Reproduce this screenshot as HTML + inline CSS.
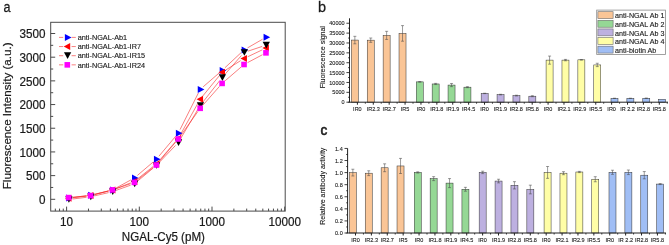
<!DOCTYPE html>
<html><head><meta charset="utf-8"><style>
html,body{margin:0;padding:0;background:#fff;}
body{width:669px;height:245px;overflow:hidden;font-family:"Liberation Sans",sans-serif;}
svg{display:block;will-change:transform;}
</style></head><body>
<svg width="669" height="245" viewBox="0 0 669 245">
<rect width="669" height="245" fill="#fff"/>
<rect x="50.7" y="22.3" width="234.5" height="188.79999999999998" fill="none" stroke="#4a4a4a" stroke-width="1"/>
<line x1="50.7" y1="199.30" x2="55.2" y2="199.30" stroke="#4a4a4a" stroke-width="1"/>
<line x1="50.7" y1="187.46" x2="53.2" y2="187.46" stroke="#4a4a4a" stroke-width="1"/>
<line x1="50.7" y1="175.61" x2="55.2" y2="175.61" stroke="#4a4a4a" stroke-width="1"/>
<line x1="50.7" y1="163.77" x2="53.2" y2="163.77" stroke="#4a4a4a" stroke-width="1"/>
<line x1="50.7" y1="151.93" x2="55.2" y2="151.93" stroke="#4a4a4a" stroke-width="1"/>
<line x1="50.7" y1="140.09" x2="53.2" y2="140.09" stroke="#4a4a4a" stroke-width="1"/>
<line x1="50.7" y1="128.24" x2="55.2" y2="128.24" stroke="#4a4a4a" stroke-width="1"/>
<line x1="50.7" y1="116.40" x2="53.2" y2="116.40" stroke="#4a4a4a" stroke-width="1"/>
<line x1="50.7" y1="104.56" x2="55.2" y2="104.56" stroke="#4a4a4a" stroke-width="1"/>
<line x1="50.7" y1="92.71" x2="53.2" y2="92.71" stroke="#4a4a4a" stroke-width="1"/>
<line x1="50.7" y1="80.87" x2="55.2" y2="80.87" stroke="#4a4a4a" stroke-width="1"/>
<line x1="50.7" y1="69.03" x2="53.2" y2="69.03" stroke="#4a4a4a" stroke-width="1"/>
<line x1="50.7" y1="57.19" x2="55.2" y2="57.19" stroke="#4a4a4a" stroke-width="1"/>
<line x1="50.7" y1="45.34" x2="53.2" y2="45.34" stroke="#4a4a4a" stroke-width="1"/>
<line x1="50.7" y1="33.50" x2="55.2" y2="33.50" stroke="#4a4a4a" stroke-width="1"/>
<text transform="translate(45.60,203.93) scale(1,1.03)" font-size="11.7" text-anchor="end" fill="#1a1a1a" stroke="#1a1a1a" stroke-width="0.203" font-family="Liberation Sans, sans-serif">0</text>
<text transform="translate(45.60,180.24) scale(1,1.03)" font-size="11.7" text-anchor="end" fill="#1a1a1a" stroke="#1a1a1a" stroke-width="0.203" font-family="Liberation Sans, sans-serif">500</text>
<text transform="translate(45.60,156.55) scale(1,1.03)" font-size="11.7" text-anchor="end" fill="#1a1a1a" stroke="#1a1a1a" stroke-width="0.203" font-family="Liberation Sans, sans-serif">1000</text>
<text transform="translate(45.60,132.87) scale(1,1.03)" font-size="11.7" text-anchor="end" fill="#1a1a1a" stroke="#1a1a1a" stroke-width="0.203" font-family="Liberation Sans, sans-serif">1500</text>
<text transform="translate(45.60,109.18) scale(1,1.03)" font-size="11.7" text-anchor="end" fill="#1a1a1a" stroke="#1a1a1a" stroke-width="0.203" font-family="Liberation Sans, sans-serif">2000</text>
<text transform="translate(45.60,85.50) scale(1,1.03)" font-size="11.7" text-anchor="end" fill="#1a1a1a" stroke="#1a1a1a" stroke-width="0.203" font-family="Liberation Sans, sans-serif">2500</text>
<text transform="translate(45.60,61.81) scale(1,1.03)" font-size="11.7" text-anchor="end" fill="#1a1a1a" stroke="#1a1a1a" stroke-width="0.203" font-family="Liberation Sans, sans-serif">3000</text>
<text transform="translate(45.60,38.13) scale(1,1.03)" font-size="11.7" text-anchor="end" fill="#1a1a1a" stroke="#1a1a1a" stroke-width="0.203" font-family="Liberation Sans, sans-serif">3500</text>
<line x1="55.34" y1="211.1" x2="55.34" y2="208.6" stroke="#4a4a4a" stroke-width="1"/>
<line x1="59.55" y1="211.1" x2="59.55" y2="208.6" stroke="#4a4a4a" stroke-width="1"/>
<line x1="63.27" y1="211.1" x2="63.27" y2="208.6" stroke="#4a4a4a" stroke-width="1"/>
<line x1="66.60" y1="211.1" x2="66.60" y2="206.6" stroke="#4a4a4a" stroke-width="1"/>
<line x1="88.48" y1="211.1" x2="88.48" y2="208.6" stroke="#4a4a4a" stroke-width="1"/>
<line x1="101.29" y1="211.1" x2="101.29" y2="208.6" stroke="#4a4a4a" stroke-width="1"/>
<line x1="110.37" y1="211.1" x2="110.37" y2="208.6" stroke="#4a4a4a" stroke-width="1"/>
<line x1="117.42" y1="211.1" x2="117.42" y2="208.6" stroke="#4a4a4a" stroke-width="1"/>
<line x1="123.17" y1="211.1" x2="123.17" y2="208.6" stroke="#4a4a4a" stroke-width="1"/>
<line x1="128.04" y1="211.1" x2="128.04" y2="208.6" stroke="#4a4a4a" stroke-width="1"/>
<line x1="132.25" y1="211.1" x2="132.25" y2="208.6" stroke="#4a4a4a" stroke-width="1"/>
<line x1="135.97" y1="211.1" x2="135.97" y2="208.6" stroke="#4a4a4a" stroke-width="1"/>
<line x1="139.30" y1="211.1" x2="139.30" y2="206.6" stroke="#4a4a4a" stroke-width="1"/>
<line x1="161.18" y1="211.1" x2="161.18" y2="208.6" stroke="#4a4a4a" stroke-width="1"/>
<line x1="173.99" y1="211.1" x2="173.99" y2="208.6" stroke="#4a4a4a" stroke-width="1"/>
<line x1="183.07" y1="211.1" x2="183.07" y2="208.6" stroke="#4a4a4a" stroke-width="1"/>
<line x1="190.12" y1="211.1" x2="190.12" y2="208.6" stroke="#4a4a4a" stroke-width="1"/>
<line x1="195.87" y1="211.1" x2="195.87" y2="208.6" stroke="#4a4a4a" stroke-width="1"/>
<line x1="200.74" y1="211.1" x2="200.74" y2="208.6" stroke="#4a4a4a" stroke-width="1"/>
<line x1="204.95" y1="211.1" x2="204.95" y2="208.6" stroke="#4a4a4a" stroke-width="1"/>
<line x1="208.67" y1="211.1" x2="208.67" y2="208.6" stroke="#4a4a4a" stroke-width="1"/>
<line x1="212.00" y1="211.1" x2="212.00" y2="206.6" stroke="#4a4a4a" stroke-width="1"/>
<line x1="233.88" y1="211.1" x2="233.88" y2="208.6" stroke="#4a4a4a" stroke-width="1"/>
<line x1="246.69" y1="211.1" x2="246.69" y2="208.6" stroke="#4a4a4a" stroke-width="1"/>
<line x1="255.77" y1="211.1" x2="255.77" y2="208.6" stroke="#4a4a4a" stroke-width="1"/>
<line x1="262.82" y1="211.1" x2="262.82" y2="208.6" stroke="#4a4a4a" stroke-width="1"/>
<line x1="268.57" y1="211.1" x2="268.57" y2="208.6" stroke="#4a4a4a" stroke-width="1"/>
<line x1="273.44" y1="211.1" x2="273.44" y2="208.6" stroke="#4a4a4a" stroke-width="1"/>
<line x1="277.65" y1="211.1" x2="277.65" y2="208.6" stroke="#4a4a4a" stroke-width="1"/>
<line x1="281.37" y1="211.1" x2="281.37" y2="208.6" stroke="#4a4a4a" stroke-width="1"/>
<line x1="284.70" y1="211.1" x2="284.70" y2="206.6" stroke="#4a4a4a" stroke-width="1"/>
<text transform="translate(66.60,225.98) scale(1,1.03)" font-size="11.7" text-anchor="middle" fill="#1a1a1a" stroke="#1a1a1a" stroke-width="0.203" font-family="Liberation Sans, sans-serif">10</text>
<text transform="translate(139.30,225.98) scale(1,1.03)" font-size="11.7" text-anchor="middle" fill="#1a1a1a" stroke="#1a1a1a" stroke-width="0.203" font-family="Liberation Sans, sans-serif">100</text>
<text transform="translate(212.00,225.98) scale(1,1.03)" font-size="11.7" text-anchor="middle" fill="#1a1a1a" stroke="#1a1a1a" stroke-width="0.203" font-family="Liberation Sans, sans-serif">1000</text>
<text transform="translate(284.70,225.98) scale(1,1.03)" font-size="11.7" text-anchor="middle" fill="#1a1a1a" stroke="#1a1a1a" stroke-width="0.203" font-family="Liberation Sans, sans-serif">10000</text>
<text transform="translate(163.40,241.42) scale(1,1.03)" font-size="11.6" text-anchor="middle" fill="#1a1a1a" stroke="#1a1a1a" stroke-width="0.202" font-family="Liberation Sans, sans-serif">NGAL-Cy5 (pM)</text>
<text transform="translate(10.5,115.8) rotate(-90)" x="0" y="0" font-size="11.65" text-anchor="middle" fill="#1a1a1a" stroke="#1a1a1a" stroke-width="0.2" font-family="Liberation Sans, sans-serif">Fluorescence Intensity (a.u.)</text>
<text transform="translate(3.50,12.28) scale(1,1.15)" font-size="12.6" text-anchor="start" fill="#1a1a1a" stroke="#1a1a1a" stroke-width="0.219" font-family="Liberation Sans, sans-serif">a</text>
<path d="M72.57 197.49L86.56 195.71M94.42 194.28L108.57 190.92M115.97 188.08L130.88 179.92M137.43 175.40L153.28 161.90M158.89 156.24L175.68 136.26M180.04 129.62L198.39 92.98M203.20 86.78L219.09 73.02M225.03 67.67L241.12 52.63M247.50 47.90L262.51 39.25" fill="none" stroke="#f52828" stroke-width="0.6"/>
<path d="M72.57 197.81L86.56 196.09M94.41 194.61L108.58 190.99M116.18 188.54L130.67 182.86M137.52 178.91L153.19 166.49M158.93 160.97L175.64 141.53M180.20 135.01L198.23 102.69M202.71 96.10L219.58 75.40M225.50 70.17L240.65 60.63M247.65 56.79L262.36 49.81" fill="none" stroke="#f52828" stroke-width="0.6"/>
<path d="M72.57 199.01L86.56 197.29M94.43 195.89L108.56 192.61M116.22 190.34L130.63 185.16M137.46 181.24L153.25 168.06M159.09 162.61L175.48 145.49M180.29 139.16L198.14 108.94M202.65 102.36L219.64 80.74M224.74 74.59L241.41 55.51M247.83 51.23L262.18 46.42" fill="none" stroke="#f52828" stroke-width="0.6"/>
<path d="M72.58 197.24L86.55 195.96M94.40 194.59L108.59 190.91M116.24 188.61L130.61 183.69M137.52 179.91L153.19 167.49M158.90 161.94L175.67 142.06M180.58 135.75L197.85 111.55M202.82 105.30L219.47 86.40M225.14 80.79L241.01 67.11M247.57 62.62L262.44 54.73" fill="none" stroke="#f52828" stroke-width="0.6"/>
<polygon points="66.20,194.50 72.80,198.00 66.20,201.50" fill="#0000ff"/>
<polygon points="88.13,191.70 94.73,195.20 88.13,198.70" fill="#0000ff"/>
<polygon points="110.06,186.50 116.66,190.00 110.06,193.50" fill="#0000ff"/>
<polygon points="131.99,174.50 138.59,178.00 131.99,181.50" fill="#0000ff"/>
<polygon points="153.92,155.80 160.52,159.30 153.92,162.80" fill="#0000ff"/>
<polygon points="175.85,129.70 182.45,133.20 175.85,136.70" fill="#0000ff"/>
<polygon points="197.78,85.90 204.38,89.40 197.78,92.90" fill="#0000ff"/>
<polygon points="219.71,66.90 226.31,70.40 219.71,73.90" fill="#0000ff"/>
<polygon points="241.64,46.40 248.24,49.90 241.64,53.40" fill="#0000ff"/>
<polygon points="263.57,33.75 270.17,37.25 263.57,40.75" fill="#0000ff"/>
<polygon points="71.50,194.80 65.00,198.30 71.50,201.80" fill="#ff0000"/>
<polygon points="93.43,192.10 86.93,195.60 93.43,199.10" fill="#ff0000"/>
<polygon points="115.36,186.50 108.86,190.00 115.36,193.50" fill="#ff0000"/>
<polygon points="137.29,177.90 130.79,181.40 137.29,184.90" fill="#ff0000"/>
<polygon points="159.22,160.50 152.72,164.00 159.22,167.50" fill="#ff0000"/>
<polygon points="181.15,135.00 174.65,138.50 181.15,142.00" fill="#ff0000"/>
<polygon points="203.08,95.70 196.58,99.20 203.08,102.70" fill="#ff0000"/>
<polygon points="225.01,68.80 218.51,72.30 225.01,75.80" fill="#ff0000"/>
<polygon points="246.94,55.00 240.44,58.50 246.94,62.00" fill="#ff0000"/>
<polygon points="268.87,44.60 262.37,48.10 268.87,51.60" fill="#ff0000"/>
<polygon points="65.25,196.15 72.55,196.15 68.90,202.85" fill="#000000"/>
<polygon points="87.18,193.45 94.48,193.45 90.83,200.15" fill="#000000"/>
<polygon points="109.11,188.35 116.41,188.35 112.76,195.05" fill="#000000"/>
<polygon points="131.04,180.45 138.34,180.45 134.69,187.15" fill="#000000"/>
<polygon points="152.97,162.15 160.27,162.15 156.62,168.85" fill="#000000"/>
<polygon points="174.90,139.25 182.20,139.25 178.55,145.95" fill="#000000"/>
<polygon points="196.83,102.15 204.13,102.15 200.48,108.85" fill="#000000"/>
<polygon points="218.76,74.25 226.06,74.25 222.41,80.95" fill="#000000"/>
<polygon points="240.69,49.15 247.99,49.15 244.34,55.85" fill="#000000"/>
<polygon points="262.62,41.80 269.92,41.80 266.27,48.50" fill="#000000"/>
<rect x="65.80" y="194.80" width="5.60" height="5.60" fill="#ff00ff"/>
<rect x="87.73" y="192.80" width="5.60" height="5.60" fill="#ff00ff"/>
<rect x="109.66" y="187.10" width="5.60" height="5.60" fill="#ff00ff"/>
<rect x="131.59" y="179.60" width="5.60" height="5.60" fill="#ff00ff"/>
<rect x="153.52" y="162.20" width="5.60" height="5.60" fill="#ff00ff"/>
<rect x="175.45" y="136.20" width="5.60" height="5.60" fill="#ff00ff"/>
<rect x="197.38" y="105.50" width="5.60" height="5.60" fill="#ff00ff"/>
<rect x="219.31" y="80.60" width="5.60" height="5.60" fill="#ff00ff"/>
<rect x="241.24" y="61.70" width="5.60" height="5.60" fill="#ff00ff"/>
<rect x="263.17" y="50.05" width="5.60" height="5.60" fill="#ff00ff"/>
<line x1="59" y1="37.40" x2="63.2" y2="37.40" stroke="#f52828" stroke-width="0.6"/>
<line x1="71.6" y1="37.40" x2="75.8" y2="37.40" stroke="#f52828" stroke-width="0.6"/>
<polygon points="64.90,33.90 71.50,37.40 64.90,40.90" fill="#0000ff"/>
<text transform="translate(77.70,40.13) scale(1,1.03)" font-size="7.3" text-anchor="start" fill="#1a1a1a" stroke="#1a1a1a" stroke-width="0.127" font-family="Liberation Sans, sans-serif">anti-NGAL-Ab1</text>
<line x1="59" y1="46.55" x2="63.2" y2="46.55" stroke="#f52828" stroke-width="0.6"/>
<line x1="71.6" y1="46.55" x2="75.8" y2="46.55" stroke="#f52828" stroke-width="0.6"/>
<polygon points="70.20,43.05 63.70,46.55 70.20,50.05" fill="#ff0000"/>
<text transform="translate(77.70,49.28) scale(1,1.03)" font-size="7.3" text-anchor="start" fill="#1a1a1a" stroke="#1a1a1a" stroke-width="0.127" font-family="Liberation Sans, sans-serif">anti-NGAL-Ab1-IR7</text>
<line x1="59" y1="55.70" x2="63.2" y2="55.70" stroke="#f52828" stroke-width="0.6"/>
<line x1="71.6" y1="55.70" x2="75.8" y2="55.70" stroke="#f52828" stroke-width="0.6"/>
<polygon points="63.95,52.35 71.25,52.35 67.60,59.05" fill="#000000"/>
<text transform="translate(77.70,58.43) scale(1,1.03)" font-size="7.3" text-anchor="start" fill="#1a1a1a" stroke="#1a1a1a" stroke-width="0.127" font-family="Liberation Sans, sans-serif">anti-NGAL-Ab1-IR15</text>
<line x1="59" y1="64.85" x2="63.2" y2="64.85" stroke="#f52828" stroke-width="0.6"/>
<line x1="71.6" y1="64.85" x2="75.8" y2="64.85" stroke="#f52828" stroke-width="0.6"/>
<rect x="64.50" y="62.05" width="5.60" height="5.60" fill="#ff00ff"/>
<text transform="translate(77.70,67.58) scale(1,1.03)" font-size="7.3" text-anchor="start" fill="#1a1a1a" stroke="#1a1a1a" stroke-width="0.127" font-family="Liberation Sans, sans-serif">anti-NGAL-Ab1-IR24</text>
<rect x="351.35" y="40.07" width="7.0" height="62.13" fill="#fac596" stroke="#303030" stroke-width="0.5"/>
<line x1="354.85" y1="36.32" x2="354.85" y2="43.82" stroke="#4a4a4a" stroke-width="0.55"/>
<line x1="353.35" y1="36.32" x2="356.35" y2="36.32" stroke="#4a4a4a" stroke-width="0.55"/>
<line x1="353.35" y1="43.82" x2="356.35" y2="43.82" stroke="#4a4a4a" stroke-width="0.55"/>
<rect x="367.24" y="40.17" width="7.0" height="62.03" fill="#fac596" stroke="#303030" stroke-width="0.5"/>
<line x1="370.74" y1="38.00" x2="370.74" y2="42.35" stroke="#4a4a4a" stroke-width="0.55"/>
<line x1="369.24" y1="38.00" x2="372.24" y2="38.00" stroke="#4a4a4a" stroke-width="0.55"/>
<line x1="369.24" y1="42.35" x2="372.24" y2="42.35" stroke="#4a4a4a" stroke-width="0.55"/>
<rect x="383.13" y="35.38" width="7.0" height="66.82" fill="#fac596" stroke="#303030" stroke-width="0.5"/>
<line x1="386.63" y1="31.33" x2="386.63" y2="39.43" stroke="#4a4a4a" stroke-width="0.55"/>
<line x1="385.13" y1="31.33" x2="388.13" y2="31.33" stroke="#4a4a4a" stroke-width="0.55"/>
<line x1="385.13" y1="39.43" x2="388.13" y2="39.43" stroke="#4a4a4a" stroke-width="0.55"/>
<rect x="399.02" y="33.41" width="7.0" height="68.79" fill="#fac596" stroke="#303030" stroke-width="0.5"/>
<line x1="402.52" y1="25.61" x2="402.52" y2="41.20" stroke="#4a4a4a" stroke-width="0.55"/>
<line x1="401.02" y1="25.61" x2="404.02" y2="25.61" stroke="#4a4a4a" stroke-width="0.55"/>
<line x1="401.02" y1="41.20" x2="404.02" y2="41.20" stroke="#4a4a4a" stroke-width="0.55"/>
<rect x="416.26" y="81.87" width="7.0" height="20.33" fill="#95d895" stroke="#303030" stroke-width="0.5"/>
<line x1="419.76" y1="81.57" x2="419.76" y2="82.16" stroke="#4a4a4a" stroke-width="0.55"/>
<line x1="418.26" y1="81.57" x2="421.26" y2="81.57" stroke="#4a4a4a" stroke-width="0.55"/>
<line x1="418.26" y1="82.16" x2="421.26" y2="82.16" stroke="#4a4a4a" stroke-width="0.55"/>
<rect x="432.15" y="83.96" width="7.0" height="18.24" fill="#95d895" stroke="#303030" stroke-width="0.5"/>
<line x1="435.65" y1="83.37" x2="435.65" y2="84.55" stroke="#4a4a4a" stroke-width="0.55"/>
<line x1="434.15" y1="83.37" x2="437.15" y2="83.37" stroke="#4a4a4a" stroke-width="0.55"/>
<line x1="434.15" y1="84.55" x2="437.15" y2="84.55" stroke="#4a4a4a" stroke-width="0.55"/>
<rect x="448.04" y="85.07" width="7.0" height="17.13" fill="#95d895" stroke="#303030" stroke-width="0.5"/>
<line x1="451.54" y1="83.49" x2="451.54" y2="86.64" stroke="#4a4a4a" stroke-width="0.55"/>
<line x1="450.04" y1="83.49" x2="453.04" y2="83.49" stroke="#4a4a4a" stroke-width="0.55"/>
<line x1="450.04" y1="86.64" x2="453.04" y2="86.64" stroke="#4a4a4a" stroke-width="0.55"/>
<rect x="463.93" y="87.17" width="7.0" height="15.03" fill="#95d895" stroke="#303030" stroke-width="0.5"/>
<line x1="467.43" y1="86.68" x2="467.43" y2="87.66" stroke="#4a4a4a" stroke-width="0.55"/>
<line x1="465.93" y1="86.68" x2="468.93" y2="86.68" stroke="#4a4a4a" stroke-width="0.55"/>
<line x1="465.93" y1="87.66" x2="468.93" y2="87.66" stroke="#4a4a4a" stroke-width="0.55"/>
<rect x="481.17" y="93.42" width="7.0" height="8.78" fill="#bdb0e0" stroke="#303030" stroke-width="0.5"/>
<line x1="484.67" y1="93.22" x2="484.67" y2="93.61" stroke="#4a4a4a" stroke-width="0.55"/>
<line x1="483.17" y1="93.22" x2="486.17" y2="93.22" stroke="#4a4a4a" stroke-width="0.55"/>
<line x1="483.17" y1="93.61" x2="486.17" y2="93.61" stroke="#4a4a4a" stroke-width="0.55"/>
<rect x="497.06" y="94.60" width="7.0" height="7.60" fill="#bdb0e0" stroke="#303030" stroke-width="0.5"/>
<line x1="500.56" y1="94.30" x2="500.56" y2="94.90" stroke="#4a4a4a" stroke-width="0.55"/>
<line x1="499.06" y1="94.30" x2="502.06" y2="94.30" stroke="#4a4a4a" stroke-width="0.55"/>
<line x1="499.06" y1="94.90" x2="502.06" y2="94.90" stroke="#4a4a4a" stroke-width="0.55"/>
<rect x="512.95" y="95.61" width="7.0" height="6.59" fill="#bdb0e0" stroke="#303030" stroke-width="0.5"/>
<line x1="516.45" y1="95.21" x2="516.45" y2="96.00" stroke="#4a4a4a" stroke-width="0.55"/>
<line x1="514.95" y1="95.21" x2="517.95" y2="95.21" stroke="#4a4a4a" stroke-width="0.55"/>
<line x1="514.95" y1="96.00" x2="517.95" y2="96.00" stroke="#4a4a4a" stroke-width="0.55"/>
<rect x="528.84" y="96.20" width="7.0" height="6.00" fill="#bdb0e0" stroke="#303030" stroke-width="0.5"/>
<line x1="532.34" y1="95.71" x2="532.34" y2="96.69" stroke="#4a4a4a" stroke-width="0.55"/>
<line x1="530.84" y1="95.71" x2="533.84" y2="95.71" stroke="#4a4a4a" stroke-width="0.55"/>
<line x1="530.84" y1="96.69" x2="533.84" y2="96.69" stroke="#4a4a4a" stroke-width="0.55"/>
<rect x="546.08" y="60.11" width="7.0" height="42.09" fill="#fffea6" stroke="#303030" stroke-width="0.5"/>
<line x1="549.58" y1="56.07" x2="549.58" y2="64.16" stroke="#4a4a4a" stroke-width="0.55"/>
<line x1="548.08" y1="56.07" x2="551.08" y2="56.07" stroke="#4a4a4a" stroke-width="0.55"/>
<line x1="548.08" y1="64.16" x2="551.08" y2="64.16" stroke="#4a4a4a" stroke-width="0.55"/>
<rect x="561.97" y="60.11" width="7.0" height="42.09" fill="#fffea6" stroke="#303030" stroke-width="0.5"/>
<line x1="565.47" y1="59.42" x2="565.47" y2="60.81" stroke="#4a4a4a" stroke-width="0.55"/>
<line x1="563.97" y1="59.42" x2="566.97" y2="59.42" stroke="#4a4a4a" stroke-width="0.55"/>
<line x1="563.97" y1="60.81" x2="566.97" y2="60.81" stroke="#4a4a4a" stroke-width="0.55"/>
<rect x="577.86" y="59.82" width="7.0" height="42.38" fill="#fffea6" stroke="#303030" stroke-width="0.5"/>
<line x1="581.36" y1="59.52" x2="581.36" y2="60.11" stroke="#4a4a4a" stroke-width="0.55"/>
<line x1="579.86" y1="59.52" x2="582.86" y2="59.52" stroke="#4a4a4a" stroke-width="0.55"/>
<line x1="579.86" y1="60.11" x2="582.86" y2="60.11" stroke="#4a4a4a" stroke-width="0.55"/>
<rect x="593.75" y="64.93" width="7.0" height="37.27" fill="#fffea6" stroke="#303030" stroke-width="0.5"/>
<line x1="597.25" y1="63.25" x2="597.25" y2="66.61" stroke="#4a4a4a" stroke-width="0.55"/>
<line x1="595.75" y1="63.25" x2="598.75" y2="63.25" stroke="#4a4a4a" stroke-width="0.55"/>
<line x1="595.75" y1="66.61" x2="598.75" y2="66.61" stroke="#4a4a4a" stroke-width="0.55"/>
<rect x="610.99" y="98.35" width="7.0" height="3.85" fill="#a0bef5" stroke="#303030" stroke-width="0.5"/>
<line x1="614.49" y1="98.23" x2="614.49" y2="98.47" stroke="#4a4a4a" stroke-width="0.55"/>
<line x1="612.99" y1="98.23" x2="615.99" y2="98.23" stroke="#4a4a4a" stroke-width="0.55"/>
<line x1="612.99" y1="98.47" x2="615.99" y2="98.47" stroke="#4a4a4a" stroke-width="0.55"/>
<rect x="626.88" y="98.35" width="7.0" height="3.85" fill="#a0bef5" stroke="#303030" stroke-width="0.5"/>
<line x1="630.38" y1="98.23" x2="630.38" y2="98.47" stroke="#4a4a4a" stroke-width="0.55"/>
<line x1="628.88" y1="98.23" x2="631.88" y2="98.23" stroke="#4a4a4a" stroke-width="0.55"/>
<line x1="628.88" y1="98.47" x2="631.88" y2="98.47" stroke="#4a4a4a" stroke-width="0.55"/>
<rect x="642.77" y="98.25" width="7.0" height="3.95" fill="#a0bef5" stroke="#303030" stroke-width="0.5"/>
<line x1="646.27" y1="98.02" x2="646.27" y2="98.49" stroke="#4a4a4a" stroke-width="0.55"/>
<line x1="644.77" y1="98.02" x2="647.77" y2="98.02" stroke="#4a4a4a" stroke-width="0.55"/>
<line x1="644.77" y1="98.49" x2="647.77" y2="98.49" stroke="#4a4a4a" stroke-width="0.55"/>
<rect x="658.66" y="99.28" width="7.0" height="2.92" fill="#a0bef5" stroke="#303030" stroke-width="0.5"/>
<line x1="349.5" y1="18.3" x2="349.5" y2="102.2" stroke="#222" stroke-width="1.0"/>
<line x1="348.3" y1="102.2" x2="668" y2="102.2" stroke="#222" stroke-width="1.0"/>
<line x1="346.4" y1="102.20" x2="349.5" y2="102.20" stroke="#111" stroke-width="0.8"/>
<text transform="translate(344.60,104.26) scale(1,1.03)" font-size="5.5" text-anchor="end" fill="#1a1a1a" stroke="#1a1a1a" stroke-width="0.096" font-family="Liberation Sans, sans-serif">0</text>
<line x1="346.4" y1="92.33" x2="349.5" y2="92.33" stroke="#111" stroke-width="0.8"/>
<text transform="translate(344.60,94.39) scale(1,1.03)" font-size="5.5" text-anchor="end" fill="#1a1a1a" stroke="#1a1a1a" stroke-width="0.096" font-family="Liberation Sans, sans-serif">5000</text>
<line x1="346.4" y1="82.46" x2="349.5" y2="82.46" stroke="#111" stroke-width="0.8"/>
<text transform="translate(344.60,84.52) scale(1,1.03)" font-size="5.5" text-anchor="end" fill="#1a1a1a" stroke="#1a1a1a" stroke-width="0.096" font-family="Liberation Sans, sans-serif">10000</text>
<line x1="346.4" y1="72.59" x2="349.5" y2="72.59" stroke="#111" stroke-width="0.8"/>
<text transform="translate(344.60,74.65) scale(1,1.03)" font-size="5.5" text-anchor="end" fill="#1a1a1a" stroke="#1a1a1a" stroke-width="0.096" font-family="Liberation Sans, sans-serif">15000</text>
<line x1="346.4" y1="62.72" x2="349.5" y2="62.72" stroke="#111" stroke-width="0.8"/>
<text transform="translate(344.60,64.78) scale(1,1.03)" font-size="5.5" text-anchor="end" fill="#1a1a1a" stroke="#1a1a1a" stroke-width="0.096" font-family="Liberation Sans, sans-serif">20000</text>
<line x1="346.4" y1="52.85" x2="349.5" y2="52.85" stroke="#111" stroke-width="0.8"/>
<text transform="translate(344.60,54.91) scale(1,1.03)" font-size="5.5" text-anchor="end" fill="#1a1a1a" stroke="#1a1a1a" stroke-width="0.096" font-family="Liberation Sans, sans-serif">25000</text>
<line x1="346.4" y1="42.98" x2="349.5" y2="42.98" stroke="#111" stroke-width="0.8"/>
<text transform="translate(344.60,45.04) scale(1,1.03)" font-size="5.5" text-anchor="end" fill="#1a1a1a" stroke="#1a1a1a" stroke-width="0.096" font-family="Liberation Sans, sans-serif">30000</text>
<line x1="346.4" y1="33.11" x2="349.5" y2="33.11" stroke="#111" stroke-width="0.8"/>
<text transform="translate(344.60,35.17) scale(1,1.03)" font-size="5.5" text-anchor="end" fill="#1a1a1a" stroke="#1a1a1a" stroke-width="0.096" font-family="Liberation Sans, sans-serif">35000</text>
<line x1="346.4" y1="23.24" x2="349.5" y2="23.24" stroke="#111" stroke-width="0.8"/>
<text transform="translate(344.60,25.30) scale(1,1.03)" font-size="5.5" text-anchor="end" fill="#1a1a1a" stroke="#1a1a1a" stroke-width="0.096" font-family="Liberation Sans, sans-serif">40000</text>
<line x1="348.0" y1="97.27" x2="349.5" y2="97.27" stroke="#111" stroke-width="0.7"/>
<line x1="348.0" y1="87.40" x2="349.5" y2="87.40" stroke="#111" stroke-width="0.7"/>
<line x1="348.0" y1="77.53" x2="349.5" y2="77.53" stroke="#111" stroke-width="0.7"/>
<line x1="348.0" y1="67.66" x2="349.5" y2="67.66" stroke="#111" stroke-width="0.7"/>
<line x1="348.0" y1="57.79" x2="349.5" y2="57.79" stroke="#111" stroke-width="0.7"/>
<line x1="348.0" y1="47.91" x2="349.5" y2="47.91" stroke="#111" stroke-width="0.7"/>
<line x1="348.0" y1="38.05" x2="349.5" y2="38.05" stroke="#111" stroke-width="0.7"/>
<line x1="348.0" y1="28.17" x2="349.5" y2="28.17" stroke="#111" stroke-width="0.7"/>
<line x1="357.40" y1="102.2" x2="357.40" y2="104.7" stroke="#222" stroke-width="1.0"/>
<line x1="365.34" y1="102.2" x2="365.34" y2="103.7" stroke="#222" stroke-width="0.9"/>
<text transform="translate(357.40,110.86) scale(1,1.03)" font-size="5.5" text-anchor="middle" fill="#1a1a1a" stroke="#1a1a1a" stroke-width="0.096" font-family="Liberation Sans, sans-serif">IR0</text>
<line x1="373.29" y1="102.2" x2="373.29" y2="104.7" stroke="#222" stroke-width="1.0"/>
<line x1="381.23" y1="102.2" x2="381.23" y2="103.7" stroke="#222" stroke-width="0.9"/>
<text transform="translate(373.29,110.86) scale(1,1.03)" font-size="5.5" text-anchor="middle" fill="#1a1a1a" stroke="#1a1a1a" stroke-width="0.096" font-family="Liberation Sans, sans-serif">IR2.3</text>
<line x1="389.18" y1="102.2" x2="389.18" y2="104.7" stroke="#222" stroke-width="1.0"/>
<line x1="397.12" y1="102.2" x2="397.12" y2="103.7" stroke="#222" stroke-width="0.9"/>
<text transform="translate(389.18,110.86) scale(1,1.03)" font-size="5.5" text-anchor="middle" fill="#1a1a1a" stroke="#1a1a1a" stroke-width="0.096" font-family="Liberation Sans, sans-serif">IR2.7</text>
<line x1="405.07" y1="102.2" x2="405.07" y2="104.7" stroke="#222" stroke-width="1.0"/>
<line x1="413.01" y1="102.2" x2="413.01" y2="103.7" stroke="#222" stroke-width="0.9"/>
<text transform="translate(405.07,110.86) scale(1,1.03)" font-size="5.5" text-anchor="middle" fill="#1a1a1a" stroke="#1a1a1a" stroke-width="0.096" font-family="Liberation Sans, sans-serif">IR5</text>
<line x1="420.96" y1="102.2" x2="420.96" y2="104.7" stroke="#222" stroke-width="1.0"/>
<line x1="428.90" y1="102.2" x2="428.90" y2="103.7" stroke="#222" stroke-width="0.9"/>
<text transform="translate(420.96,110.86) scale(1,1.03)" font-size="5.5" text-anchor="middle" fill="#1a1a1a" stroke="#1a1a1a" stroke-width="0.096" font-family="Liberation Sans, sans-serif">IR0</text>
<line x1="436.85" y1="102.2" x2="436.85" y2="104.7" stroke="#222" stroke-width="1.0"/>
<line x1="444.79" y1="102.2" x2="444.79" y2="103.7" stroke="#222" stroke-width="0.9"/>
<text transform="translate(436.85,110.86) scale(1,1.03)" font-size="5.5" text-anchor="middle" fill="#1a1a1a" stroke="#1a1a1a" stroke-width="0.096" font-family="Liberation Sans, sans-serif">IR1.8</text>
<line x1="452.74" y1="102.2" x2="452.74" y2="104.7" stroke="#222" stroke-width="1.0"/>
<line x1="460.69" y1="102.2" x2="460.69" y2="103.7" stroke="#222" stroke-width="0.9"/>
<text transform="translate(452.74,110.86) scale(1,1.03)" font-size="5.5" text-anchor="middle" fill="#1a1a1a" stroke="#1a1a1a" stroke-width="0.096" font-family="Liberation Sans, sans-serif">IR1.9</text>
<line x1="468.63" y1="102.2" x2="468.63" y2="104.7" stroke="#222" stroke-width="1.0"/>
<line x1="476.57" y1="102.2" x2="476.57" y2="103.7" stroke="#222" stroke-width="0.9"/>
<text transform="translate(468.63,110.86) scale(1,1.03)" font-size="5.5" text-anchor="middle" fill="#1a1a1a" stroke="#1a1a1a" stroke-width="0.096" font-family="Liberation Sans, sans-serif">IR4.5</text>
<line x1="484.52" y1="102.2" x2="484.52" y2="104.7" stroke="#222" stroke-width="1.0"/>
<line x1="492.46" y1="102.2" x2="492.46" y2="103.7" stroke="#222" stroke-width="0.9"/>
<text transform="translate(484.52,110.86) scale(1,1.03)" font-size="5.5" text-anchor="middle" fill="#1a1a1a" stroke="#1a1a1a" stroke-width="0.096" font-family="Liberation Sans, sans-serif">IR0</text>
<line x1="500.41" y1="102.2" x2="500.41" y2="104.7" stroke="#222" stroke-width="1.0"/>
<line x1="508.35" y1="102.2" x2="508.35" y2="103.7" stroke="#222" stroke-width="0.9"/>
<text transform="translate(500.41,110.86) scale(1,1.03)" font-size="5.5" text-anchor="middle" fill="#1a1a1a" stroke="#1a1a1a" stroke-width="0.096" font-family="Liberation Sans, sans-serif">IR1.9</text>
<line x1="516.30" y1="102.2" x2="516.30" y2="104.7" stroke="#222" stroke-width="1.0"/>
<line x1="524.25" y1="102.2" x2="524.25" y2="103.7" stroke="#222" stroke-width="0.9"/>
<text transform="translate(516.30,110.86) scale(1,1.03)" font-size="5.5" text-anchor="middle" fill="#1a1a1a" stroke="#1a1a1a" stroke-width="0.096" font-family="Liberation Sans, sans-serif">IR2.8</text>
<line x1="532.19" y1="102.2" x2="532.19" y2="104.7" stroke="#222" stroke-width="1.0"/>
<line x1="540.14" y1="102.2" x2="540.14" y2="103.7" stroke="#222" stroke-width="0.9"/>
<text transform="translate(532.19,110.86) scale(1,1.03)" font-size="5.5" text-anchor="middle" fill="#1a1a1a" stroke="#1a1a1a" stroke-width="0.096" font-family="Liberation Sans, sans-serif">IR5.8</text>
<line x1="548.08" y1="102.2" x2="548.08" y2="104.7" stroke="#222" stroke-width="1.0"/>
<line x1="556.02" y1="102.2" x2="556.02" y2="103.7" stroke="#222" stroke-width="0.9"/>
<text transform="translate(548.08,110.86) scale(1,1.03)" font-size="5.5" text-anchor="middle" fill="#1a1a1a" stroke="#1a1a1a" stroke-width="0.096" font-family="Liberation Sans, sans-serif">IR0</text>
<line x1="563.97" y1="102.2" x2="563.97" y2="104.7" stroke="#222" stroke-width="1.0"/>
<line x1="571.92" y1="102.2" x2="571.92" y2="103.7" stroke="#222" stroke-width="0.9"/>
<text transform="translate(563.97,110.86) scale(1,1.03)" font-size="5.5" text-anchor="middle" fill="#1a1a1a" stroke="#1a1a1a" stroke-width="0.096" font-family="Liberation Sans, sans-serif">IR2.1</text>
<line x1="579.86" y1="102.2" x2="579.86" y2="104.7" stroke="#222" stroke-width="1.0"/>
<line x1="587.81" y1="102.2" x2="587.81" y2="103.7" stroke="#222" stroke-width="0.9"/>
<text transform="translate(579.86,110.86) scale(1,1.03)" font-size="5.5" text-anchor="middle" fill="#1a1a1a" stroke="#1a1a1a" stroke-width="0.096" font-family="Liberation Sans, sans-serif">IR2.9</text>
<line x1="595.75" y1="102.2" x2="595.75" y2="104.7" stroke="#222" stroke-width="1.0"/>
<line x1="603.70" y1="102.2" x2="603.70" y2="103.7" stroke="#222" stroke-width="0.9"/>
<text transform="translate(595.75,110.86) scale(1,1.03)" font-size="5.5" text-anchor="middle" fill="#1a1a1a" stroke="#1a1a1a" stroke-width="0.096" font-family="Liberation Sans, sans-serif">IR5.5</text>
<line x1="611.64" y1="102.2" x2="611.64" y2="104.7" stroke="#222" stroke-width="1.0"/>
<line x1="619.59" y1="102.2" x2="619.59" y2="103.7" stroke="#222" stroke-width="0.9"/>
<text transform="translate(611.64,110.86) scale(1,1.03)" font-size="5.5" text-anchor="middle" fill="#1a1a1a" stroke="#1a1a1a" stroke-width="0.096" font-family="Liberation Sans, sans-serif">IR0</text>
<line x1="627.53" y1="102.2" x2="627.53" y2="104.7" stroke="#222" stroke-width="1.0"/>
<line x1="635.48" y1="102.2" x2="635.48" y2="103.7" stroke="#222" stroke-width="0.9"/>
<text transform="translate(627.53,110.86) scale(1,1.03)" font-size="5.5" text-anchor="middle" fill="#1a1a1a" stroke="#1a1a1a" stroke-width="0.096" font-family="Liberation Sans, sans-serif">IR 2.2</text>
<line x1="643.42" y1="102.2" x2="643.42" y2="104.7" stroke="#222" stroke-width="1.0"/>
<line x1="651.37" y1="102.2" x2="651.37" y2="103.7" stroke="#222" stroke-width="0.9"/>
<text transform="translate(643.42,110.86) scale(1,1.03)" font-size="5.5" text-anchor="middle" fill="#1a1a1a" stroke="#1a1a1a" stroke-width="0.096" font-family="Liberation Sans, sans-serif">IR2.8</text>
<line x1="659.31" y1="102.2" x2="659.31" y2="104.7" stroke="#222" stroke-width="1.0"/>
<line x1="667.25" y1="102.2" x2="667.25" y2="103.7" stroke="#222" stroke-width="0.9"/>
<text transform="translate(659.31,110.86) scale(1,1.03)" font-size="5.5" text-anchor="middle" fill="#1a1a1a" stroke="#1a1a1a" stroke-width="0.096" font-family="Liberation Sans, sans-serif">IR5.8</text>
<text transform="translate(325.0,57.2) rotate(-90)" font-size="7" text-anchor="middle" fill="#1a1a1a" stroke="#1a1a1a" stroke-width="0.122" font-family="Liberation Sans, sans-serif">Fluorescence signal</text>
<rect x="349.35" y="172.60" width="7.0" height="60.40" fill="#fac596" stroke="#303030" stroke-width="0.5"/>
<line x1="352.85" y1="169.22" x2="352.85" y2="175.98" stroke="#4a4a4a" stroke-width="0.55"/>
<line x1="351.35" y1="169.22" x2="354.35" y2="169.22" stroke="#4a4a4a" stroke-width="0.55"/>
<line x1="351.35" y1="175.98" x2="354.35" y2="175.98" stroke="#4a4a4a" stroke-width="0.55"/>
<rect x="365.24" y="173.20" width="7.0" height="59.80" fill="#fac596" stroke="#303030" stroke-width="0.5"/>
<line x1="368.74" y1="170.79" x2="368.74" y2="175.62" stroke="#4a4a4a" stroke-width="0.55"/>
<line x1="367.24" y1="170.79" x2="370.24" y2="170.79" stroke="#4a4a4a" stroke-width="0.55"/>
<line x1="367.24" y1="175.62" x2="370.24" y2="175.62" stroke="#4a4a4a" stroke-width="0.55"/>
<rect x="381.13" y="167.77" width="7.0" height="65.23" fill="#fac596" stroke="#303030" stroke-width="0.5"/>
<line x1="384.63" y1="163.84" x2="384.63" y2="171.69" stroke="#4a4a4a" stroke-width="0.55"/>
<line x1="383.13" y1="163.84" x2="386.13" y2="163.84" stroke="#4a4a4a" stroke-width="0.55"/>
<line x1="383.13" y1="171.69" x2="386.13" y2="171.69" stroke="#4a4a4a" stroke-width="0.55"/>
<rect x="397.02" y="165.96" width="7.0" height="67.04" fill="#fac596" stroke="#303030" stroke-width="0.5"/>
<line x1="400.52" y1="158.41" x2="400.52" y2="173.51" stroke="#4a4a4a" stroke-width="0.55"/>
<line x1="399.02" y1="158.41" x2="402.02" y2="158.41" stroke="#4a4a4a" stroke-width="0.55"/>
<line x1="399.02" y1="173.51" x2="402.02" y2="173.51" stroke="#4a4a4a" stroke-width="0.55"/>
<rect x="414.26" y="172.42" width="7.0" height="60.58" fill="#95d895" stroke="#303030" stroke-width="0.5"/>
<line x1="417.76" y1="171.81" x2="417.76" y2="173.02" stroke="#4a4a4a" stroke-width="0.55"/>
<line x1="416.26" y1="171.81" x2="419.26" y2="171.81" stroke="#4a4a4a" stroke-width="0.55"/>
<line x1="416.26" y1="173.02" x2="419.26" y2="173.02" stroke="#4a4a4a" stroke-width="0.55"/>
<rect x="430.15" y="178.64" width="7.0" height="54.36" fill="#95d895" stroke="#303030" stroke-width="0.5"/>
<line x1="433.65" y1="176.65" x2="433.65" y2="180.63" stroke="#4a4a4a" stroke-width="0.55"/>
<line x1="432.15" y1="176.65" x2="435.15" y2="176.65" stroke="#4a4a4a" stroke-width="0.55"/>
<line x1="432.15" y1="180.63" x2="435.15" y2="180.63" stroke="#4a4a4a" stroke-width="0.55"/>
<rect x="446.04" y="183.11" width="7.0" height="49.89" fill="#95d895" stroke="#303030" stroke-width="0.5"/>
<line x1="449.54" y1="178.58" x2="449.54" y2="187.64" stroke="#4a4a4a" stroke-width="0.55"/>
<line x1="448.04" y1="178.58" x2="451.04" y2="178.58" stroke="#4a4a4a" stroke-width="0.55"/>
<line x1="448.04" y1="187.64" x2="451.04" y2="187.64" stroke="#4a4a4a" stroke-width="0.55"/>
<rect x="461.93" y="189.27" width="7.0" height="43.73" fill="#95d895" stroke="#303030" stroke-width="0.5"/>
<line x1="465.43" y1="187.34" x2="465.43" y2="191.20" stroke="#4a4a4a" stroke-width="0.55"/>
<line x1="463.93" y1="187.34" x2="466.93" y2="187.34" stroke="#4a4a4a" stroke-width="0.55"/>
<line x1="463.93" y1="191.20" x2="466.93" y2="191.20" stroke="#4a4a4a" stroke-width="0.55"/>
<rect x="479.17" y="172.42" width="7.0" height="60.58" fill="#bdb0e0" stroke="#303030" stroke-width="0.5"/>
<line x1="482.67" y1="171.21" x2="482.67" y2="173.63" stroke="#4a4a4a" stroke-width="0.55"/>
<line x1="481.17" y1="171.21" x2="484.17" y2="171.21" stroke="#4a4a4a" stroke-width="0.55"/>
<line x1="481.17" y1="173.63" x2="484.17" y2="173.63" stroke="#4a4a4a" stroke-width="0.55"/>
<rect x="495.06" y="181.06" width="7.0" height="51.94" fill="#bdb0e0" stroke="#303030" stroke-width="0.5"/>
<line x1="498.56" y1="179.24" x2="498.56" y2="182.87" stroke="#4a4a4a" stroke-width="0.55"/>
<line x1="497.06" y1="179.24" x2="500.06" y2="179.24" stroke="#4a4a4a" stroke-width="0.55"/>
<line x1="497.06" y1="182.87" x2="500.06" y2="182.87" stroke="#4a4a4a" stroke-width="0.55"/>
<rect x="510.95" y="185.28" width="7.0" height="47.72" fill="#bdb0e0" stroke="#303030" stroke-width="0.5"/>
<line x1="514.45" y1="181.66" x2="514.45" y2="188.91" stroke="#4a4a4a" stroke-width="0.55"/>
<line x1="512.95" y1="181.66" x2="515.95" y2="181.66" stroke="#4a4a4a" stroke-width="0.55"/>
<line x1="512.95" y1="188.91" x2="515.95" y2="188.91" stroke="#4a4a4a" stroke-width="0.55"/>
<rect x="526.84" y="189.51" width="7.0" height="43.49" fill="#bdb0e0" stroke="#303030" stroke-width="0.5"/>
<line x1="530.34" y1="185.16" x2="530.34" y2="193.86" stroke="#4a4a4a" stroke-width="0.55"/>
<line x1="528.84" y1="185.16" x2="531.84" y2="185.16" stroke="#4a4a4a" stroke-width="0.55"/>
<line x1="528.84" y1="193.86" x2="531.84" y2="193.86" stroke="#4a4a4a" stroke-width="0.55"/>
<rect x="544.08" y="172.42" width="7.0" height="60.58" fill="#fffea6" stroke="#303030" stroke-width="0.5"/>
<line x1="547.58" y1="166.50" x2="547.58" y2="178.34" stroke="#4a4a4a" stroke-width="0.55"/>
<line x1="546.08" y1="166.50" x2="549.08" y2="166.50" stroke="#4a4a4a" stroke-width="0.55"/>
<line x1="546.08" y1="178.34" x2="549.08" y2="178.34" stroke="#4a4a4a" stroke-width="0.55"/>
<rect x="559.97" y="173.20" width="7.0" height="59.80" fill="#fffea6" stroke="#303030" stroke-width="0.5"/>
<line x1="563.47" y1="171.69" x2="563.47" y2="174.71" stroke="#4a4a4a" stroke-width="0.55"/>
<line x1="561.97" y1="171.69" x2="564.97" y2="171.69" stroke="#4a4a4a" stroke-width="0.55"/>
<line x1="561.97" y1="174.71" x2="564.97" y2="174.71" stroke="#4a4a4a" stroke-width="0.55"/>
<rect x="575.86" y="172.00" width="7.0" height="61.00" fill="#fffea6" stroke="#303030" stroke-width="0.5"/>
<line x1="579.36" y1="171.39" x2="579.36" y2="172.60" stroke="#4a4a4a" stroke-width="0.55"/>
<line x1="577.86" y1="171.39" x2="580.86" y2="171.39" stroke="#4a4a4a" stroke-width="0.55"/>
<line x1="577.86" y1="172.60" x2="580.86" y2="172.60" stroke="#4a4a4a" stroke-width="0.55"/>
<rect x="591.75" y="179.24" width="7.0" height="53.76" fill="#fffea6" stroke="#303030" stroke-width="0.5"/>
<line x1="595.25" y1="176.71" x2="595.25" y2="181.78" stroke="#4a4a4a" stroke-width="0.55"/>
<line x1="593.75" y1="176.71" x2="596.75" y2="176.71" stroke="#4a4a4a" stroke-width="0.55"/>
<line x1="593.75" y1="181.78" x2="596.75" y2="181.78" stroke="#4a4a4a" stroke-width="0.55"/>
<rect x="608.99" y="172.30" width="7.0" height="60.70" fill="#a0bef5" stroke="#303030" stroke-width="0.5"/>
<line x1="612.49" y1="170.24" x2="612.49" y2="174.35" stroke="#4a4a4a" stroke-width="0.55"/>
<line x1="610.99" y1="170.24" x2="613.99" y2="170.24" stroke="#4a4a4a" stroke-width="0.55"/>
<line x1="610.99" y1="174.35" x2="613.99" y2="174.35" stroke="#4a4a4a" stroke-width="0.55"/>
<rect x="624.88" y="172.30" width="7.0" height="60.70" fill="#a0bef5" stroke="#303030" stroke-width="0.5"/>
<line x1="628.38" y1="170.00" x2="628.38" y2="174.59" stroke="#4a4a4a" stroke-width="0.55"/>
<line x1="626.88" y1="170.00" x2="629.88" y2="170.00" stroke="#4a4a4a" stroke-width="0.55"/>
<line x1="626.88" y1="174.59" x2="629.88" y2="174.59" stroke="#4a4a4a" stroke-width="0.55"/>
<rect x="640.77" y="175.20" width="7.0" height="57.80" fill="#a0bef5" stroke="#303030" stroke-width="0.5"/>
<line x1="644.27" y1="171.57" x2="644.27" y2="178.82" stroke="#4a4a4a" stroke-width="0.55"/>
<line x1="642.77" y1="171.57" x2="645.77" y2="171.57" stroke="#4a4a4a" stroke-width="0.55"/>
<line x1="642.77" y1="178.82" x2="645.77" y2="178.82" stroke="#4a4a4a" stroke-width="0.55"/>
<rect x="656.66" y="184.08" width="7.0" height="48.92" fill="#a0bef5" stroke="#303030" stroke-width="0.5"/>
<line x1="660.16" y1="183.59" x2="660.16" y2="184.56" stroke="#4a4a4a" stroke-width="0.55"/>
<line x1="658.66" y1="183.59" x2="661.66" y2="183.59" stroke="#4a4a4a" stroke-width="0.55"/>
<line x1="658.66" y1="184.56" x2="661.66" y2="184.56" stroke="#4a4a4a" stroke-width="0.55"/>
<line x1="347.6" y1="148.4" x2="347.6" y2="233.0" stroke="#222" stroke-width="1.0"/>
<line x1="346.40000000000003" y1="233.0" x2="666" y2="233.0" stroke="#222" stroke-width="1.0"/>
<line x1="344.5" y1="233.00" x2="347.6" y2="233.00" stroke="#111" stroke-width="0.8"/>
<text transform="translate(342.70,235.06) scale(1,1.03)" font-size="5.5" text-anchor="end" fill="#1a1a1a" stroke="#1a1a1a" stroke-width="0.096" font-family="Liberation Sans, sans-serif">0.0</text>
<line x1="344.5" y1="220.92" x2="347.6" y2="220.92" stroke="#111" stroke-width="0.8"/>
<text transform="translate(342.70,222.98) scale(1,1.03)" font-size="5.5" text-anchor="end" fill="#1a1a1a" stroke="#1a1a1a" stroke-width="0.096" font-family="Liberation Sans, sans-serif">0.2</text>
<line x1="344.5" y1="208.84" x2="347.6" y2="208.84" stroke="#111" stroke-width="0.8"/>
<text transform="translate(342.70,210.90) scale(1,1.03)" font-size="5.5" text-anchor="end" fill="#1a1a1a" stroke="#1a1a1a" stroke-width="0.096" font-family="Liberation Sans, sans-serif">0.4</text>
<line x1="344.5" y1="196.76" x2="347.6" y2="196.76" stroke="#111" stroke-width="0.8"/>
<text transform="translate(342.70,198.82) scale(1,1.03)" font-size="5.5" text-anchor="end" fill="#1a1a1a" stroke="#1a1a1a" stroke-width="0.096" font-family="Liberation Sans, sans-serif">0.6</text>
<line x1="344.5" y1="184.68" x2="347.6" y2="184.68" stroke="#111" stroke-width="0.8"/>
<text transform="translate(342.70,186.74) scale(1,1.03)" font-size="5.5" text-anchor="end" fill="#1a1a1a" stroke="#1a1a1a" stroke-width="0.096" font-family="Liberation Sans, sans-serif">0.8</text>
<line x1="344.5" y1="172.60" x2="347.6" y2="172.60" stroke="#111" stroke-width="0.8"/>
<text transform="translate(342.70,174.66) scale(1,1.03)" font-size="5.5" text-anchor="end" fill="#1a1a1a" stroke="#1a1a1a" stroke-width="0.096" font-family="Liberation Sans, sans-serif">1.0</text>
<line x1="344.5" y1="160.52" x2="347.6" y2="160.52" stroke="#111" stroke-width="0.8"/>
<text transform="translate(342.70,162.58) scale(1,1.03)" font-size="5.5" text-anchor="end" fill="#1a1a1a" stroke="#1a1a1a" stroke-width="0.096" font-family="Liberation Sans, sans-serif">1.2</text>
<line x1="344.5" y1="148.44" x2="347.6" y2="148.44" stroke="#111" stroke-width="0.8"/>
<text transform="translate(342.70,150.50) scale(1,1.03)" font-size="5.5" text-anchor="end" fill="#1a1a1a" stroke="#1a1a1a" stroke-width="0.096" font-family="Liberation Sans, sans-serif">1.4</text>
<line x1="346.1" y1="226.96" x2="347.6" y2="226.96" stroke="#111" stroke-width="0.7"/>
<line x1="346.1" y1="214.88" x2="347.6" y2="214.88" stroke="#111" stroke-width="0.7"/>
<line x1="346.1" y1="202.80" x2="347.6" y2="202.80" stroke="#111" stroke-width="0.7"/>
<line x1="346.1" y1="190.72" x2="347.6" y2="190.72" stroke="#111" stroke-width="0.7"/>
<line x1="346.1" y1="178.64" x2="347.6" y2="178.64" stroke="#111" stroke-width="0.7"/>
<line x1="346.1" y1="166.56" x2="347.6" y2="166.56" stroke="#111" stroke-width="0.7"/>
<line x1="346.1" y1="154.48" x2="347.6" y2="154.48" stroke="#111" stroke-width="0.7"/>
<line x1="355.50" y1="233.0" x2="355.50" y2="235.5" stroke="#222" stroke-width="1.0"/>
<line x1="363.44" y1="233.0" x2="363.44" y2="234.5" stroke="#222" stroke-width="0.9"/>
<text transform="translate(355.50,241.66) scale(1,1.03)" font-size="5.5" text-anchor="middle" fill="#1a1a1a" stroke="#1a1a1a" stroke-width="0.096" font-family="Liberation Sans, sans-serif">IR0</text>
<line x1="371.39" y1="233.0" x2="371.39" y2="235.5" stroke="#222" stroke-width="1.0"/>
<line x1="379.33" y1="233.0" x2="379.33" y2="234.5" stroke="#222" stroke-width="0.9"/>
<text transform="translate(371.39,241.66) scale(1,1.03)" font-size="5.5" text-anchor="middle" fill="#1a1a1a" stroke="#1a1a1a" stroke-width="0.096" font-family="Liberation Sans, sans-serif">IR2.3</text>
<line x1="387.28" y1="233.0" x2="387.28" y2="235.5" stroke="#222" stroke-width="1.0"/>
<line x1="395.22" y1="233.0" x2="395.22" y2="234.5" stroke="#222" stroke-width="0.9"/>
<text transform="translate(387.28,241.66) scale(1,1.03)" font-size="5.5" text-anchor="middle" fill="#1a1a1a" stroke="#1a1a1a" stroke-width="0.096" font-family="Liberation Sans, sans-serif">IR2.7</text>
<line x1="403.17" y1="233.0" x2="403.17" y2="235.5" stroke="#222" stroke-width="1.0"/>
<line x1="411.12" y1="233.0" x2="411.12" y2="234.5" stroke="#222" stroke-width="0.9"/>
<text transform="translate(403.17,241.66) scale(1,1.03)" font-size="5.5" text-anchor="middle" fill="#1a1a1a" stroke="#1a1a1a" stroke-width="0.096" font-family="Liberation Sans, sans-serif">IR5</text>
<line x1="419.06" y1="233.0" x2="419.06" y2="235.5" stroke="#222" stroke-width="1.0"/>
<line x1="427.00" y1="233.0" x2="427.00" y2="234.5" stroke="#222" stroke-width="0.9"/>
<text transform="translate(419.06,241.66) scale(1,1.03)" font-size="5.5" text-anchor="middle" fill="#1a1a1a" stroke="#1a1a1a" stroke-width="0.096" font-family="Liberation Sans, sans-serif">IR0</text>
<line x1="434.95" y1="233.0" x2="434.95" y2="235.5" stroke="#222" stroke-width="1.0"/>
<line x1="442.89" y1="233.0" x2="442.89" y2="234.5" stroke="#222" stroke-width="0.9"/>
<text transform="translate(434.95,241.66) scale(1,1.03)" font-size="5.5" text-anchor="middle" fill="#1a1a1a" stroke="#1a1a1a" stroke-width="0.096" font-family="Liberation Sans, sans-serif">IR1.8</text>
<line x1="450.84" y1="233.0" x2="450.84" y2="235.5" stroke="#222" stroke-width="1.0"/>
<line x1="458.79" y1="233.0" x2="458.79" y2="234.5" stroke="#222" stroke-width="0.9"/>
<text transform="translate(450.84,241.66) scale(1,1.03)" font-size="5.5" text-anchor="middle" fill="#1a1a1a" stroke="#1a1a1a" stroke-width="0.096" font-family="Liberation Sans, sans-serif">IR1.9</text>
<line x1="466.73" y1="233.0" x2="466.73" y2="235.5" stroke="#222" stroke-width="1.0"/>
<line x1="474.68" y1="233.0" x2="474.68" y2="234.5" stroke="#222" stroke-width="0.9"/>
<text transform="translate(466.73,241.66) scale(1,1.03)" font-size="5.5" text-anchor="middle" fill="#1a1a1a" stroke="#1a1a1a" stroke-width="0.096" font-family="Liberation Sans, sans-serif">IR4.5</text>
<line x1="482.62" y1="233.0" x2="482.62" y2="235.5" stroke="#222" stroke-width="1.0"/>
<line x1="490.56" y1="233.0" x2="490.56" y2="234.5" stroke="#222" stroke-width="0.9"/>
<text transform="translate(482.62,241.66) scale(1,1.03)" font-size="5.5" text-anchor="middle" fill="#1a1a1a" stroke="#1a1a1a" stroke-width="0.096" font-family="Liberation Sans, sans-serif">IR0</text>
<line x1="498.51" y1="233.0" x2="498.51" y2="235.5" stroke="#222" stroke-width="1.0"/>
<line x1="506.45" y1="233.0" x2="506.45" y2="234.5" stroke="#222" stroke-width="0.9"/>
<text transform="translate(498.51,241.66) scale(1,1.03)" font-size="5.5" text-anchor="middle" fill="#1a1a1a" stroke="#1a1a1a" stroke-width="0.096" font-family="Liberation Sans, sans-serif">IR1.9</text>
<line x1="514.40" y1="233.0" x2="514.40" y2="235.5" stroke="#222" stroke-width="1.0"/>
<line x1="522.35" y1="233.0" x2="522.35" y2="234.5" stroke="#222" stroke-width="0.9"/>
<text transform="translate(514.40,241.66) scale(1,1.03)" font-size="5.5" text-anchor="middle" fill="#1a1a1a" stroke="#1a1a1a" stroke-width="0.096" font-family="Liberation Sans, sans-serif">IR2.8</text>
<line x1="530.29" y1="233.0" x2="530.29" y2="235.5" stroke="#222" stroke-width="1.0"/>
<line x1="538.24" y1="233.0" x2="538.24" y2="234.5" stroke="#222" stroke-width="0.9"/>
<text transform="translate(530.29,241.66) scale(1,1.03)" font-size="5.5" text-anchor="middle" fill="#1a1a1a" stroke="#1a1a1a" stroke-width="0.096" font-family="Liberation Sans, sans-serif">IR5.8</text>
<line x1="546.18" y1="233.0" x2="546.18" y2="235.5" stroke="#222" stroke-width="1.0"/>
<line x1="554.13" y1="233.0" x2="554.13" y2="234.5" stroke="#222" stroke-width="0.9"/>
<text transform="translate(546.18,241.66) scale(1,1.03)" font-size="5.5" text-anchor="middle" fill="#1a1a1a" stroke="#1a1a1a" stroke-width="0.096" font-family="Liberation Sans, sans-serif">IR0</text>
<line x1="562.07" y1="233.0" x2="562.07" y2="235.5" stroke="#222" stroke-width="1.0"/>
<line x1="570.01" y1="233.0" x2="570.01" y2="234.5" stroke="#222" stroke-width="0.9"/>
<text transform="translate(562.07,241.66) scale(1,1.03)" font-size="5.5" text-anchor="middle" fill="#1a1a1a" stroke="#1a1a1a" stroke-width="0.096" font-family="Liberation Sans, sans-serif">IR2.1</text>
<line x1="577.96" y1="233.0" x2="577.96" y2="235.5" stroke="#222" stroke-width="1.0"/>
<line x1="585.91" y1="233.0" x2="585.91" y2="234.5" stroke="#222" stroke-width="0.9"/>
<text transform="translate(577.96,241.66) scale(1,1.03)" font-size="5.5" text-anchor="middle" fill="#1a1a1a" stroke="#1a1a1a" stroke-width="0.096" font-family="Liberation Sans, sans-serif">IR2.9</text>
<line x1="593.85" y1="233.0" x2="593.85" y2="235.5" stroke="#222" stroke-width="1.0"/>
<line x1="601.80" y1="233.0" x2="601.80" y2="234.5" stroke="#222" stroke-width="0.9"/>
<text transform="translate(593.85,241.66) scale(1,1.03)" font-size="5.5" text-anchor="middle" fill="#1a1a1a" stroke="#1a1a1a" stroke-width="0.096" font-family="Liberation Sans, sans-serif">IR5.5</text>
<line x1="609.74" y1="233.0" x2="609.74" y2="235.5" stroke="#222" stroke-width="1.0"/>
<line x1="617.69" y1="233.0" x2="617.69" y2="234.5" stroke="#222" stroke-width="0.9"/>
<text transform="translate(609.74,241.66) scale(1,1.03)" font-size="5.5" text-anchor="middle" fill="#1a1a1a" stroke="#1a1a1a" stroke-width="0.096" font-family="Liberation Sans, sans-serif">IR0</text>
<line x1="625.63" y1="233.0" x2="625.63" y2="235.5" stroke="#222" stroke-width="1.0"/>
<line x1="633.58" y1="233.0" x2="633.58" y2="234.5" stroke="#222" stroke-width="0.9"/>
<text transform="translate(625.63,241.66) scale(1,1.03)" font-size="5.5" text-anchor="middle" fill="#1a1a1a" stroke="#1a1a1a" stroke-width="0.096" font-family="Liberation Sans, sans-serif">IR 2.2</text>
<line x1="641.52" y1="233.0" x2="641.52" y2="235.5" stroke="#222" stroke-width="1.0"/>
<line x1="649.47" y1="233.0" x2="649.47" y2="234.5" stroke="#222" stroke-width="0.9"/>
<text transform="translate(641.52,241.66) scale(1,1.03)" font-size="5.5" text-anchor="middle" fill="#1a1a1a" stroke="#1a1a1a" stroke-width="0.096" font-family="Liberation Sans, sans-serif">IR2.8</text>
<line x1="657.41" y1="233.0" x2="657.41" y2="235.5" stroke="#222" stroke-width="1.0"/>
<line x1="665.36" y1="233.0" x2="665.36" y2="234.5" stroke="#222" stroke-width="0.9"/>
<text transform="translate(657.41,241.66) scale(1,1.03)" font-size="5.5" text-anchor="middle" fill="#1a1a1a" stroke="#1a1a1a" stroke-width="0.096" font-family="Liberation Sans, sans-serif">IR5.8</text>
<text transform="translate(325.0,186.2) rotate(-90)" font-size="7" text-anchor="middle" fill="#1a1a1a" stroke="#1a1a1a" stroke-width="0.122" font-family="Liberation Sans, sans-serif">Relative antibody activity</text>
<text transform="translate(318.00,11.66) scale(1,1.03)" font-size="14.5" text-anchor="start" fill="#1a1a1a" stroke="#1a1a1a" stroke-width="0.252" font-family="Liberation Sans, sans-serif">b</text>
<text transform="translate(320.50,135.49) scale(1,1.1)" font-size="13.6" text-anchor="start" fill="#1a1a1a" stroke="#1a1a1a" stroke-width="0.55" font-family="Liberation Sans, sans-serif">c</text>
<rect x="596.7" y="10.1" width="68.7" height="44.3" fill="#fff" stroke="#8a8a8a" stroke-width="0.8"/>
<rect x="597.9" y="11.70" width="15.2" height="6.9" fill="#fac596" stroke="#6a6a6a" stroke-width="0.6"/>
<text transform="translate(615.00,18.28) scale(1,1.03)" font-size="7.15" text-anchor="start" fill="#1a1a1a" stroke="#1a1a1a" stroke-width="0.124" font-family="Liberation Sans, sans-serif">anti-NGAL Ab 1</text>
<rect x="597.9" y="20.32" width="15.2" height="6.9" fill="#95d895" stroke="#6a6a6a" stroke-width="0.6"/>
<text transform="translate(615.00,26.90) scale(1,1.03)" font-size="7.15" text-anchor="start" fill="#1a1a1a" stroke="#1a1a1a" stroke-width="0.124" font-family="Liberation Sans, sans-serif">anti-NGAL Ab 2</text>
<rect x="597.9" y="28.94" width="15.2" height="6.9" fill="#bdb0e0" stroke="#6a6a6a" stroke-width="0.6"/>
<text transform="translate(615.00,35.52) scale(1,1.03)" font-size="7.15" text-anchor="start" fill="#1a1a1a" stroke="#1a1a1a" stroke-width="0.124" font-family="Liberation Sans, sans-serif">anti-NGAL Ab 3</text>
<rect x="597.9" y="37.56" width="15.2" height="6.9" fill="#fffea6" stroke="#6a6a6a" stroke-width="0.6"/>
<text transform="translate(615.00,44.14) scale(1,1.03)" font-size="7.15" text-anchor="start" fill="#1a1a1a" stroke="#1a1a1a" stroke-width="0.124" font-family="Liberation Sans, sans-serif">anti-NGAL Ab 4</text>
<rect x="597.9" y="46.18" width="15.2" height="6.9" fill="#a0bef5" stroke="#6a6a6a" stroke-width="0.6"/>
<text transform="translate(615.00,52.76) scale(1,1.03)" font-size="7.15" text-anchor="start" fill="#1a1a1a" stroke="#1a1a1a" stroke-width="0.124" font-family="Liberation Sans, sans-serif">anti-biotin Ab</text>
</svg>
</body></html>
